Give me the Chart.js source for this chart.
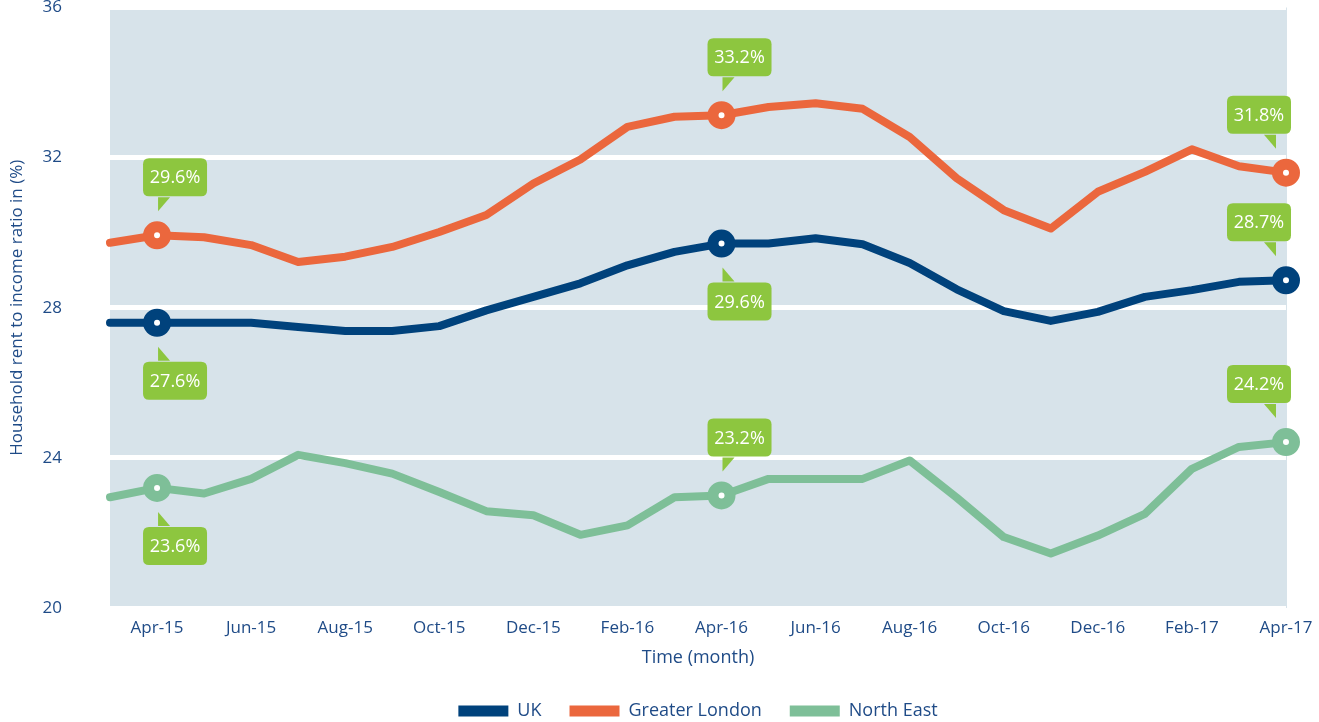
<!DOCTYPE html>
<html>
<head>
<meta charset="utf-8">
<script src="https://cdn.jsdelivr.net/npm/chart.js@4.4.1/dist/chart.umd.min.js"></script>
<style>
  html, body { margin: 0; padding: 0; background: #ffffff; }
</style>
</head>
<body>
<canvas id="chartRenta" width="1319" height="722"></canvas>
<script>
// meses (marzo 2015 - abril 2017)
const months = ['Mar-15', 'Apr-15', 'May-15', 'Jun-15', 'Jul-15', 'Aug-15', 'Sep-15', 'Oct-15', 'Nov-15',
  'Dec-15', 'Jan-16', 'Feb-16', 'Mar-16', 'Apr-16', 'May-16', 'Jun-16', 'Jul-16', 'Aug-16', 'Sep-16',
  'Oct-16', 'Nov-16', 'Dec-16', 'Jan-17', 'Feb-17', 'Mar-17', 'Apr-17'];

const ukValues = [27.6, 27.6, 27.6, 27.6, 27.49, 27.38, 27.38, 27.51, 27.93, 28.29, 28.65, 29.13, 29.49,
  29.71, 29.71, 29.85, 29.69, 29.19, 28.49, 27.91, 27.65, 27.89, 28.29, 28.47, 28.69, 28.73];
const londonValues = [29.73, 29.93, 29.88, 29.67, 29.22, 29.36, 29.62, 30.02, 30.47, 31.31, 31.95, 32.82, 33.09,
  33.13, 33.35, 33.45, 33.3, 32.55, 31.45, 30.6, 30.11, 31.09, 31.62, 32.22, 31.77, 31.6];
const northEastValues = [22.95, 23.2, 23.05, 23.44, 24.08, 23.86, 23.58, 23.09, 22.58, 22.47, 21.95, 22.2, 22.95,
  23.0, 23.44, 23.44, 23.44, 23.93, 22.94, 21.89, 21.45, 21.93, 22.51, 23.71, 24.29, 24.42];

const yTicks = [20, 24, 28, 32, 36];

// puntos marcados y sus etiquetas
const markIdx = [1, 13, 25];
const ukNotes = ['27.6%', '29.6%', '28.7%'];
const londonNotes = ['29.6%', '33.2%', '31.8%'];
const northEastNotes = ['23.6%', '23.2%', '24.2%'];
const ukNoteAbove = [false, false, true];
const londonNoteAbove = [true, true, true];
const northEastNoteAbove = [false, true, true];

const textColor = '#1f4b87';
const fontFamily = "'Open Sans', 'Noto Sans', sans-serif";

const notes = [
  { texts: ukNotes, above: ukNoteAbove },
  { texts: londonNotes, above: londonNoteAbove },
  { texts: northEastNotes, above: northEastNoteAbove }
];

const fondoPlugin = {
  id: 'fondo',
  beforeDraw(chart) {
    const { ctx, chartArea } = chart;
    ctx.save();
    ctx.fillStyle = '#d7e3ea';
    ctx.fillRect(chartArea.left, chartArea.top, chartArea.right - chartArea.left + 1, chartArea.bottom - chartArea.top);
    ctx.restore();
  }
};

const roundRect = (ctx, x, y, w, h, r) => {
  ctx.beginPath();
  ctx.moveTo(x + r, y);
  ctx.lineTo(x + w - r, y);
  ctx.quadraticCurveTo(x + w, y, x + w, y + r);
  ctx.lineTo(x + w, y + h - r);
  ctx.quadraticCurveTo(x + w, y + h, x + w - r, y + h);
  ctx.lineTo(x + r, y + h);
  ctx.quadraticCurveTo(x, y + h, x, y + h - r);
  ctx.lineTo(x, y + r);
  ctx.quadraticCurveTo(x, y, x + r, y);
  ctx.closePath();
};

// globos verdes con el valor
const globosPlugin = {
  id: 'globos',
  afterDatasetsDraw(chart) {
    const ctx = chart.ctx;
    const lastIdx = months.length - 1;
    ctx.save();
    notes.forEach((n, ds) => {
      const meta = chart.getDatasetMeta(ds);
      markIdx.forEach((idx, j) => {
        const el = meta.data[idx];
        const px = el.x, py = el.y;
        const w = 64, h = 38;
        const toRight = idx !== lastIdx;
        const tipX = toRight ? px + 1 : px - 10;
        const boxX = toRight ? tipX - 15 : tipX + 15 - w;
        const dir = n.above[j] ? -1 : 1;
        const tipY = py + dir * 24;
        const edgeY = py + dir * 39;
        const boxY = n.above[j] ? edgeY - h : edgeY;

        ctx.fillStyle = '#8dc63f';
        roundRect(ctx, boxX, boxY, w, h, 6);
        ctx.fill();
        ctx.beginPath();
        ctx.moveTo(tipX, tipY);
        ctx.lineTo(tipX, edgeY - dir * 1);
        ctx.lineTo(toRight ? tipX + 12 : tipX - 12, edgeY - dir * 1);
        ctx.closePath();
        ctx.fill();

        ctx.fillStyle = '#ffffff';
        ctx.font = "18px " + fontFamily;
        ctx.textAlign = 'center';
        ctx.textBaseline = 'middle';
        ctx.fillText(n.texts[j], boxX + w / 2, boxY + h / 2 + 1);
      });
    });
    ctx.restore();
  }
};

// ajustar altura de la leyenda
const leyendaPlugin = {
  id: 'leyendaAltura',
  beforeInit(chart) {
    const fitOriginal = chart.legend.fit;
    chart.legend.fit = function () {
      fitOriginal.bind(chart.legend)();
      this.height = 48;
    };
  }
};

const makeDataset = (label, values, color) => ({
  label: label,
  data: values,
  borderColor: color,
  backgroundColor: color,
  borderWidth: 8,
  borderJoinStyle: 'round',
  borderCapStyle: 'round',
  tension: 0,
  clip: false,
  pointRadius: (c) => markIdx.includes(c.dataIndex) ? 8.5 : 0,
  pointHoverRadius: (c) => markIdx.includes(c.dataIndex) ? 8.5 : 0,
  pointBorderWidth: 11,
  pointHoverBorderWidth: 11,
  pointBorderColor: color,
  pointBackgroundColor: '#ffffff'
});

const ctx = document.getElementById('chartRenta').getContext('2d');

const chartRenta = new Chart(ctx, {
  type: 'line',
  data: {
    labels: months,
    datasets: [
      makeDataset('UK', ukValues, '#00427c'),
      makeDataset('Greater London', londonValues, '#eb673d'),
      makeDataset('North East', northEastValues, '#7ebf98')
    ]
  },
  options: {
    responsive: false,
    animation: false,
    events: [],
    layout: { autoPadding: false, padding: { left: 0, right: 33, top: 0, bottom: 0 } },
    plugins: {
      legend: {
        position: 'bottom',
        fullSize: false,
        labels: {
          boxWidth: 50,
          boxHeight: 11,
          padding: 28,
          color: textColor,
          font: { family: fontFamily, size: 18 },
          generateLabels: (chart) => chart.data.datasets.map((d, i) => ({
            text: d.label,
            fillStyle: d.borderColor,
            strokeStyle: d.borderColor,
            lineWidth: 0,
            fontColor: textColor,
            datasetIndex: i
          }))
        }
      },
      tooltip: { enabled: false }
    },
    scales: {
      x: {
        offset: false,
        grid: { display: false, drawTicks: false },
        border: { display: false },
        ticks: {
          autoSkip: false,
          maxRotation: 0,
          padding: 10,
          color: textColor,
          font: { family: fontFamily, size: 17 },
          callback: (val, i) => i % 2 === 1 ? months[i] : ''
        },
        title: {
          display: true,
          text: 'Time (month)',
          color: textColor,
          font: { family: fontFamily, size: 18 },
          padding: { top: 0, bottom: 5 }
        },
        afterFit: (s) => {
          s.height = 66;
          s.paddingLeft = 0;
          s.paddingRight = 0;
        }
      },
      y: {
        min: 20,
        max: 36,
        afterBuildTicks: (s) => { s.ticks = yTicks.map(v => ({ value: v })); },
        grid: { color: '#ffffff', lineWidth: 5, drawTicks: true, tickLength: 48, tickColor: 'rgba(0,0,0,0)' },
        border: { display: false },
        ticks: {
          padding: 0,
          color: textColor,
          font: { family: fontFamily, size: 17, lineHeight: 1 }
        },
        title: {
          display: true,
          text: 'Household rent to income ratio in (%)',
          color: textColor,
          font: { family: fontFamily, size: 17 },
          padding: { top: 7, bottom: 0 }
        },
        afterFit: (s) => {
          s.width = 110;
          s.paddingTop = 7.5;
          s.paddingBottom = 0;
        }
      }
    }
  },
  plugins: [fondoPlugin, globosPlugin, leyendaPlugin]
});
</script>
</body>
</html>
